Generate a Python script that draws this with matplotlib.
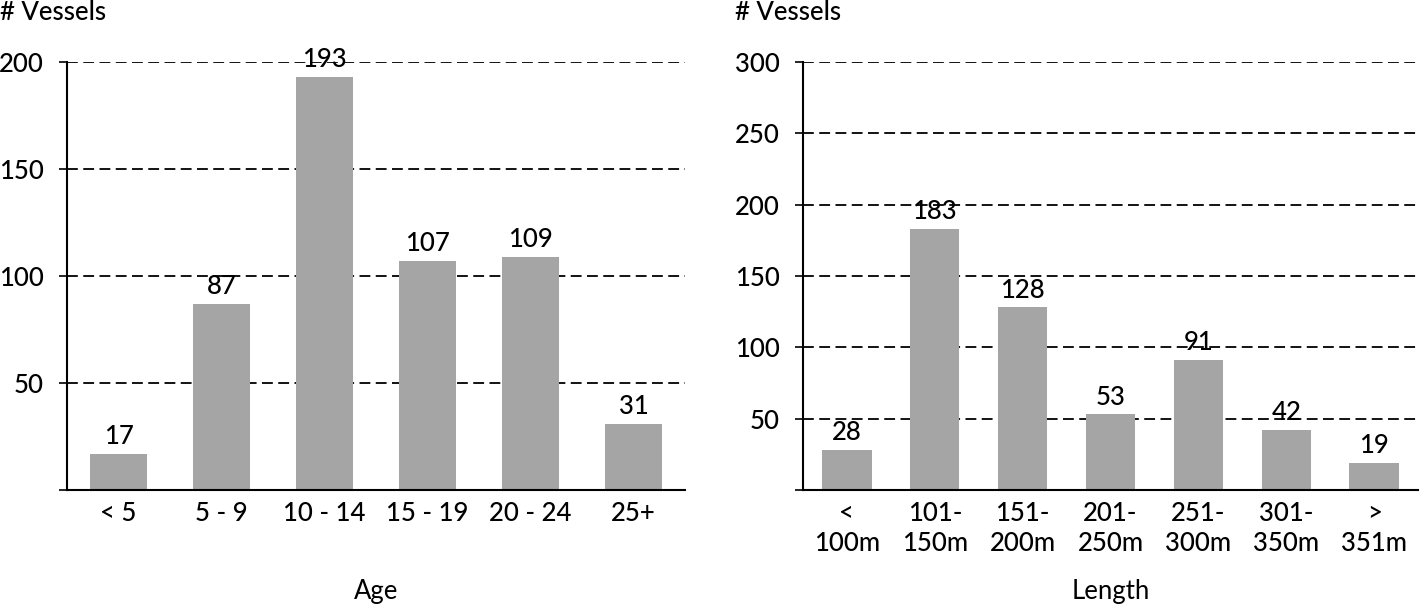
import matplotlib
matplotlib.use("Agg")
import matplotlib.pyplot as plt

age_categories = ["< 5", "5 - 9", "10 - 14", "15 - 19", "20 - 24", "25+"]
age_values = [17, 87, 193, 107, 109, 31]
age_yticks = [0, 50, 100, 150, 200]

length_categories = ["<\n100m", "101-\n150m", "151-\n200m", "201-\n250m",
                     "251-\n300m", "301-\n350m", ">\n351m"]
length_values = [28, 183, 128, 53, 91, 42, 19]
length_yticks = [0, 50, 100, 150, 200, 250, 300]

plt.rcParams['font.family'] = ['Lato', 'DejaVu Sans']
plt.rcParams['font.weight'] = 'medium'
FS = 18.5
BAR = '#a5a5a5'

fig = plt.figure(figsize=(14.2, 6.07), dpi=100)
H = 607.0
W = 1420.0
ax1 = fig.add_axes([67 / W, 1 - 490 / H, (685 - 67) / W, (490 - 62) / H])
ax2 = fig.add_axes([803 / W, 1 - 490 / H, (1418 - 803) / W, (490 - 62) / H])


def style(ax, cats, vals, yticks, xlabel):
    x = list(range(len(cats)))
    ax.bar(x, vals, width=0.56, color=BAR, zorder=3)
    ax.set_xlim(-0.5, len(cats) - 0.5)
    ax.set_ylim(0, yticks[-1])
    ax.set_yticks(yticks)
    ax.set_yticklabels([''] + [str(t) for t in yticks[1:]], fontsize=FS)
    ax.set_xticks(x)
    ax.set_xticklabels(cats, fontsize=FS, linespacing=1.25)
    ax.tick_params(axis='x', length=0, pad=8)
    ax.tick_params(axis='y', length=8 / 1.389, width=1.2, pad=11, direction='out')
    for t in yticks[1:]:
        ax.axhline(t, color='black', lw=1.3, linestyle=(0, (6, 3)), zorder=1)
    for s in ['top', 'right']:
        ax.spines[s].set_visible(False)
    for s in ['left', 'bottom']:
        ax.spines[s].set_linewidth(1.5)
        ax.spines[s].set_zorder(4)
    for xi, v in zip(x, vals):
        ax.annotate(str(v), (xi, v), xytext=(0, 7), textcoords='offset points',
                    ha='center', va='baseline', fontsize=FS, zorder=5)
    ax.set_xlabel(xlabel, fontsize=FS)


style(ax1, age_categories, age_values, age_yticks, "Age")
style(ax2, length_categories, length_values, length_yticks, "Length")

ax1.xaxis.set_label_coords(0.5, -(592 - 490) / (490 - 62), transform=ax1.transAxes)
ax2.xaxis.set_label_coords(0.5, -(592 - 490) / (490 - 62), transform=ax2.transAxes)
ax1.xaxis.label.set_va('center')
ax2.xaxis.label.set_va('center')

fig.text(0 / W, 1 - 13 / H, "# Vessels", fontsize=FS, ha='left', va='center')
fig.text(735 / W, 1 - 13 / H, "# Vessels", fontsize=FS, ha='left', va='center')

fig.savefig("out.png", dpi=100)
